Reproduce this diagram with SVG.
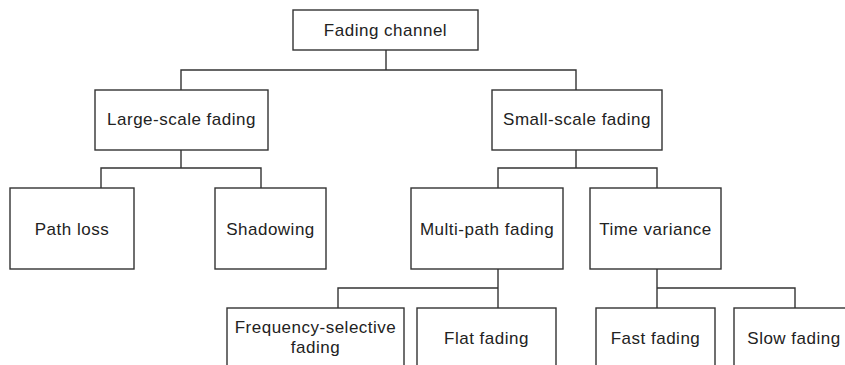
<svg xmlns="http://www.w3.org/2000/svg" width="845" height="365" viewBox="0 0 845 365">
<style>
.box{fill:#fff;stroke:#333;stroke-width:1.4}
.lbl{font-family:"Liberation Sans",Arial,sans-serif;font-size:17px;letter-spacing:0.5px;fill:#222;text-anchor:middle}
.con{fill:none;stroke:#333;stroke-width:1.4}
</style>
<rect width="845" height="365" fill="#fff"/>
<g id="connectors">
<path class="con" d="M386,50 V70 M181,90 V70 H576 V90"/>
<path class="con" d="M181,150 V168 M101,188 V168 H261 V188"/>
<path class="con" d="M576,150 V168 M498,188 V168 H657 V188"/>
<path class="con" d="M498,269 V308 M338,308 V288 H498"/>
<path class="con" d="M657,269 V308 M657,288 H795 V308"/>
</g>
<g id="fading-channel"><rect class="box" x="293" y="10" width="185" height="40"/><text class="lbl" x="385.5" y="36">Fading channel</text></g>
<g id="large-scale"><rect class="box" x="95" y="90" width="173" height="60"/><text class="lbl" x="181.5" y="125">Large-scale fading</text></g>
<g id="small-scale"><rect class="box" x="492" y="90" width="170" height="60"/><text class="lbl" x="577" y="125">Small-scale fading</text></g>
<g id="path-loss"><rect class="box" x="10" y="188" width="124" height="81"/><text class="lbl" x="72" y="235">Path loss</text></g>
<g id="shadowing"><rect class="box" x="215" y="188" width="111" height="81"/><text class="lbl" x="270.5" y="235">Shadowing</text></g>
<g id="multi-path"><rect class="box" x="411" y="188" width="152" height="81"/><text class="lbl" x="487" y="235">Multi-path fading</text></g>
<g id="time-variance"><rect class="box" x="590" y="188" width="131" height="81"/><text class="lbl" x="655.5" y="235">Time variance</text></g>
<g id="frequency-selective"><rect class="box" x="227" y="308" width="177" height="70"/><text class="lbl" x="315.5" y="333">Frequency-selective</text><text class="lbl" x="315.5" y="353">fading</text></g>
<g id="flat-fading"><rect class="box" x="417" y="308" width="139" height="70"/><text class="lbl" x="486.5" y="344">Flat fading</text></g>
<g id="fast-fading"><rect class="box" x="596" y="308" width="119" height="70"/><text class="lbl" x="655.5" y="344">Fast fading</text></g>
<g id="slow-fading"><rect class="box" x="734" y="308" width="120" height="70"/><text class="lbl" x="794" y="344">Slow fading</text></g>
</svg>
